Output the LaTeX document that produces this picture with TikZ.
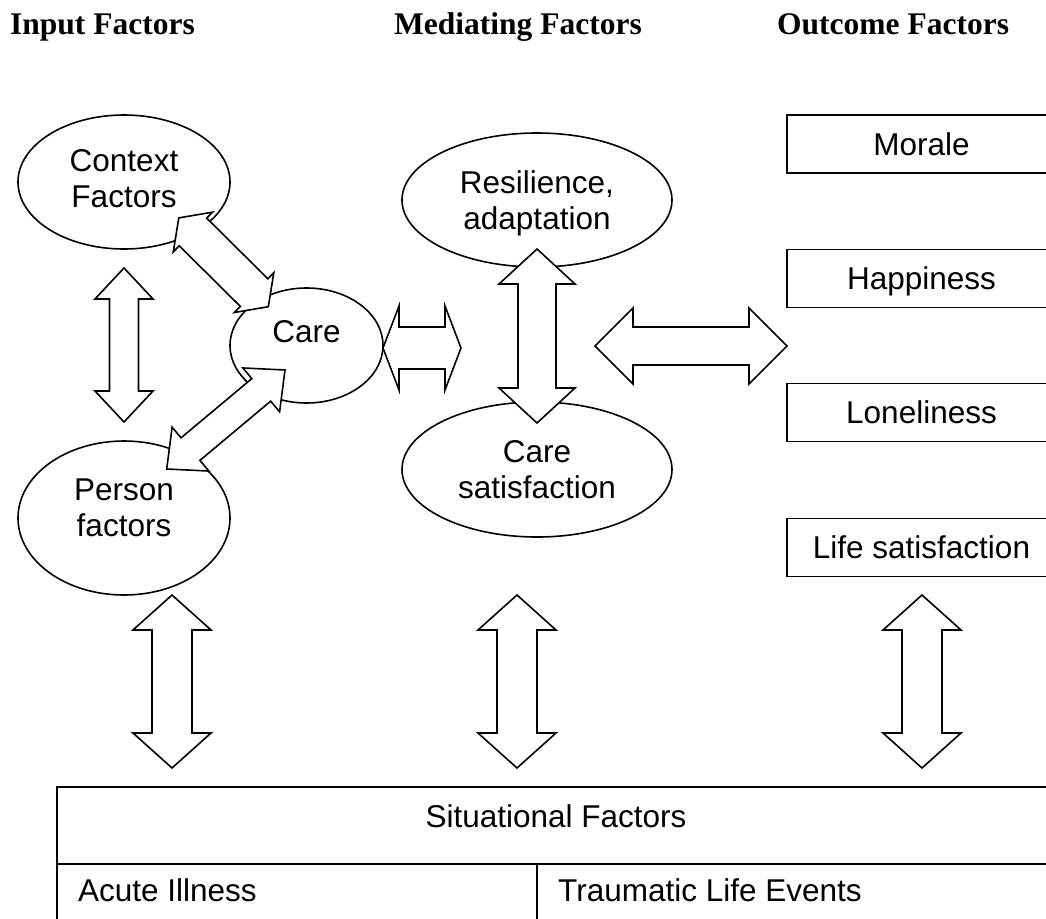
\documentclass[tikz,border=0pt]{standalone}
\usepackage{fontspec}
\setmainfont{Liberation Sans}
\newfontfamily\headfont{Liberation Serif}
\usetikzlibrary{calc,shapes.geometric}
\tikzset{
  txt/.style={font=\fontsize{31.5}{36}\selectfont, inner sep=0pt},
  coltitle/.style={font=\headfont\bfseries\fontsize{31.5}{36}\selectfont, inner sep=0pt, anchor=base west},
  oval/.style={ellipse, draw, line width=1.6pt, inner sep=0pt},
  outbox/.style={rectangle, draw, line width=1.6pt, minimum width=269pt, minimum height=58pt,
    txt, text height=22.5pt, text depth=0pt},
  barrow/.style={draw, fill=white, line width=1.6pt, line join=miter},
  tblline/.style={line width=2pt}
}
% block arrow with two heads: tips, head length, head half width, shaft half width
\newcommand{\blockarrow}[5]{%
  \path ($(#1)!#3!(#2)$) coordinate (ba) ($(#2)!#3!(#1)$) coordinate (bb);
  \draw[barrow] (#1) -- ($(ba)!#4!90:(#2)$) -- ($(ba)!#5!90:(#2)$)
    -- ($(bb)!#5!-90:(#1)$) -- ($(bb)!#4!-90:(#1)$) -- (#2)
    -- ($(bb)!#4!90:(#1)$) -- ($(bb)!#5!90:(#1)$)
    -- ($(ba)!#5!-90:(#2)$) -- ($(ba)!#4!-90:(#2)$) -- cycle;
}

\begin{document}
\begin{tikzpicture}[x=1pt, y=-1pt]
  \useasboundingbox (0,0) rectangle (1046,918);

  % column titles
  \foreach \nm/\x/\t in {tin/10/Input Factors, tmed/394/Mediating Factors, tout/777/Outcome Factors}
    \node[coltitle] (\nm) at (\x,34.5) {\t};

  % input and mediating factors
  \node[oval, minimum width=212pt, minimum height=134pt,
    label={[txt, align=center, yshift=3pt]center:{Context\\Factors}}] (ctx) at (124,182) {};
  \node[oval, minimum width=153pt, minimum height=115pt,
    label={[txt, yshift=14pt]center:Care}] (care) at (306.5,345.5) {};
  \node[oval, minimum width=212pt, minimum height=154pt,
    label={[txt, align=center, yshift=10.5pt]center:{Person\\factors}}] (prs) at (124,518) {};
  \node[oval, minimum width=270pt, minimum height=134pt,
    label={[txt, align=center, yshift=-3.3pt]center:{Resilience,\\adaptation}}] (res) at (537,200) {};
  \node[oval, minimum width=270pt, minimum height=135pt,
    label={[txt, align=center]center:{Care\\satisfaction}}] (csat) at (537,469.5) {};

  % outcome factors
  \foreach \nm/\t/\y in {morale/Morale/144, happy/Happiness/278.5, lonely/Loneliness/412.5, lsat/Life satisfaction/547.5}
    \node[outbox] (\nm) at (921.5,\y) {\t};

  % situational factors
  \draw[tblline] (57,787) rectangle (1056,950);
  \draw[tblline] (57,864) -- (1056,864);
  \draw[line width=1.6pt] (537,864) -- (537,950);
  \node[txt, anchor=base] (sit) at (556,827) {Situational Factors};
  \node[txt, anchor=base west] (acute) at (78,901.7) {Acute Illness};
  \node[txt, anchor=base west] (trauma) at (558,901.7) {Traumatic Life Events};

  % block arrows
  \coordinate (ctxE) at (178.8,217.9);
  \coordinate (careN) at (268.3,306.7);
  \blockarrow{ctxE}{careN}{20pt}{28pt}{19.5pt}
  \coordinate (careS) at (285,370);
  \coordinate (prsE) at (166.7,469);
  \blockarrow{careS}{prsE}{31pt}{28.6pt}{14.7pt}
  \coordinate (ctxS) at (124,268);
  \coordinate (prsN) at (124,422);
  \blockarrow{ctxS}{prsN}{31pt}{29pt}{14.5pt}
  \coordinate (careE) at (383,348);
  \coordinate (medW) at (461,348);
  \blockarrow{careE}{medW}{16pt}{42pt}{21pt}
  \coordinate (resS) at (537,249);
  \coordinate (csatN) at (537,423);
  \blockarrow{resS}{csatN}{35pt}{38pt}{19pt}
  \coordinate (medE) at (595,346);
  \coordinate (outW) at (787,346);
  \blockarrow{medE}{outW}{38pt}{38pt}{19pt}
  \foreach \x [count=\i] in {172,517,922} {
    \coordinate (up\i) at (\x,595);
    \coordinate (dn\i) at (\x,768);
    \blockarrow{up\i}{dn\i}{35pt}{39pt}{20pt}
  }
\end{tikzpicture}
\end{document}
